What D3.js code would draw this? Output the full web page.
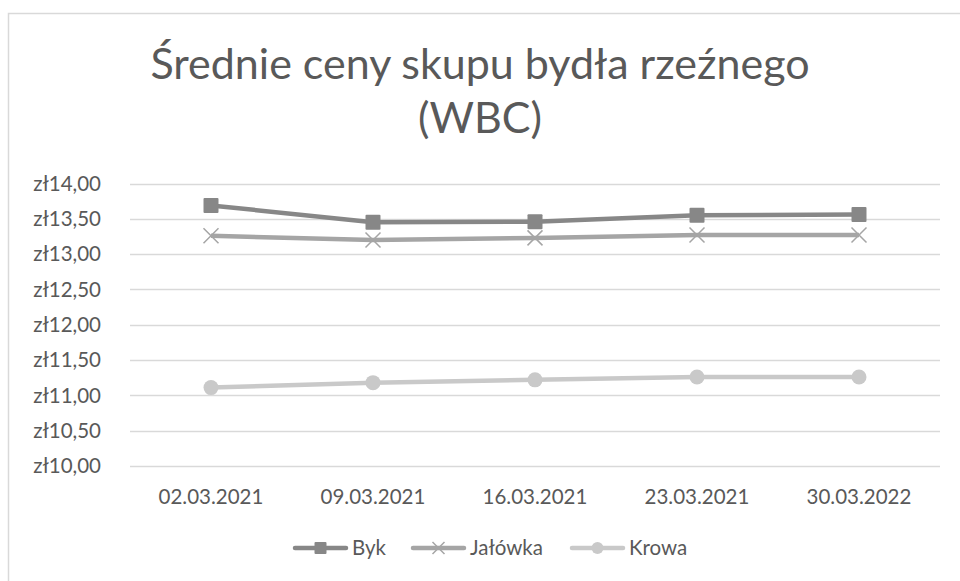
<!DOCTYPE html>
<html>
<head>
<meta charset="utf-8">
<script src="https://cdn.jsdelivr.net/npm/d3@7"></script>
<style>
  body { margin: 0; background: #fff; }
  text { font-family: Lato, "Open Sans", sans-serif; fill: #595959; }
</style>
</head>
<body>
<div id="chart"></div>
<script>
// data
var dates = ["02.03.2021", "09.03.2021", "16.03.2021", "23.03.2021", "30.03.2022"];
var byk = [13.69, 13.45, 13.46, 13.55, 13.56];
var jalowka = [13.26, 13.20, 13.23, 13.27, 13.27];
var krowa = [11.11, 11.18, 11.22, 11.26, 11.26];
var yTicks = [10, 10.5, 11, 11.5, 12, 12.5, 13, 13.5, 14];

var series = [
  { name: "Byk", values: byk, color: "#878787", symbol: "square" },
  { name: "Jałówka", values: jalowka, color: "#a5a5a5", symbol: "cross" },
  { name: "Krowa", values: krowa, color: "#c9c9c9", symbol: "circle" }
];

var width = 960, height = 581;
var svg = d3.select("#chart").append("svg")
  .attr("width", width)
  .attr("height", height);

//chart frame
svg.append("rect")
  .attr("x", 8.5).attr("y", 13.5)
  .attr("width", 1000).attr("height", 1000)
  .attr("fill", "none")
  .attr("stroke", "#d9d9d9")
  .attr("stroke-width", 1.5);

//title
var title = svg.append("text")
  .attr("text-anchor", "middle")
  .attr("font-size", "43px");
title.append("tspan").attr("x", 480).attr("y", 79).text("Średnie ceny skupu bydła rzeźnego");
title.append("tspan").attr("x", 480).attr("y", 133).text("(WBC)");

var x = d3.scaleBand().domain(dates).range([130, 940]);
var y = d3.scaleLinear().domain([10, 14]).range([466, 183.5]);

var fmt = d3.format(".2f");

//grid lines
svg.append("g")
  .selectAll("line")
  .data(yTicks)
  .enter()
  .append("line")
  .attr("x1", 130)
  .attr("x2", 940)
  .attr("y1", (d) => Math.round(y(d)) + 0.5)
  .attr("y2", (d) => Math.round(y(d)) + 0.5)
  .attr("stroke", "#d9d9d9")
  .attr("stroke-width", 1.5);

//y labels
svg.append("g")
  .selectAll("text")
  .data(yTicks)
  .enter()
  .append("text")
  .attr("x", 101)
  .attr("y", (d) => y(d))
  .attr("dy", "0.35em")
  .attr("text-anchor", "end")
  .attr("font-size", "20.5px")
  .text((d) => "zł" + fmt(d).replace(".", ","));

//x labels
svg.append("g")
  .selectAll("text")
  .data(dates)
  .enter()
  .append("text")
  .attr("x", (d) => x(d) + x.bandwidth() / 2)
  .attr("y", 497)
  .attr("dy", "0.35em")
  .attr("text-anchor", "middle")
  .attr("font-size", "20.5px")
  .text((d) => d);

var line = d3.line()
  .x((d, i) => x(dates[i]) + x.bandwidth() / 2)
  .y((d) => y(d));

function drawMarker(g, s, cx, cy, r) {
  if (s.symbol === "square") {
    g.append("rect")
      .attr("x", cx - r).attr("y", cy - r)
      .attr("width", 2 * r).attr("height", 2 * r)
      .attr("rx", 1)
      .attr("fill", s.color);
  } else if (s.symbol === "circle") {
    g.append("circle")
      .attr("cx", cx).attr("cy", cy).attr("r", r)
      .attr("fill", s.color);
  } else {
    g.append("path")
      .attr("d", "M" + (cx - r) + "," + (cy - r) + "L" + (cx + r) + "," + (cy + r) +
        "M" + (cx - r) + "," + (cy + r) + "L" + (cx + r) + "," + (cy - r))
      .attr("stroke", s.color)
      .attr("stroke-width", 1.5)
      .attr("fill", "none");
  }
}

series.forEach(function (s) {
  var g = svg.append("g");
  g.append("path")
    .datum(s.values)
    .attr("d", line)
    .attr("fill", "none")
    .attr("stroke", s.color)
    .attr("stroke-width", 4.5)
    .attr("stroke-linejoin", "round");
  s.values.forEach(function (v, i) {
    drawMarker(g, s, x(dates[i]) + x.bandwidth() / 2, y(v), 7.5);
  });
});

//legend
var legendX = [293, 411, 570];
series.forEach(function (s, i) {
  var g = svg.append("g").attr("transform", "translate(" + legendX[i] + ",548)");
  g.append("line")
    .attr("x1", 2).attr("x2", 53)
    .attr("stroke", s.color)
    .attr("stroke-width", 4.5)
    .attr("stroke-linecap", "round");
  drawMarker(g, s, 27.5, 0, 6);
  g.append("text")
    .attr("x", 59)
    .attr("dy", "0.35em")
    .attr("font-size", "20.5px")
    .text(s.name);
});
</script>
</body>
</html>
